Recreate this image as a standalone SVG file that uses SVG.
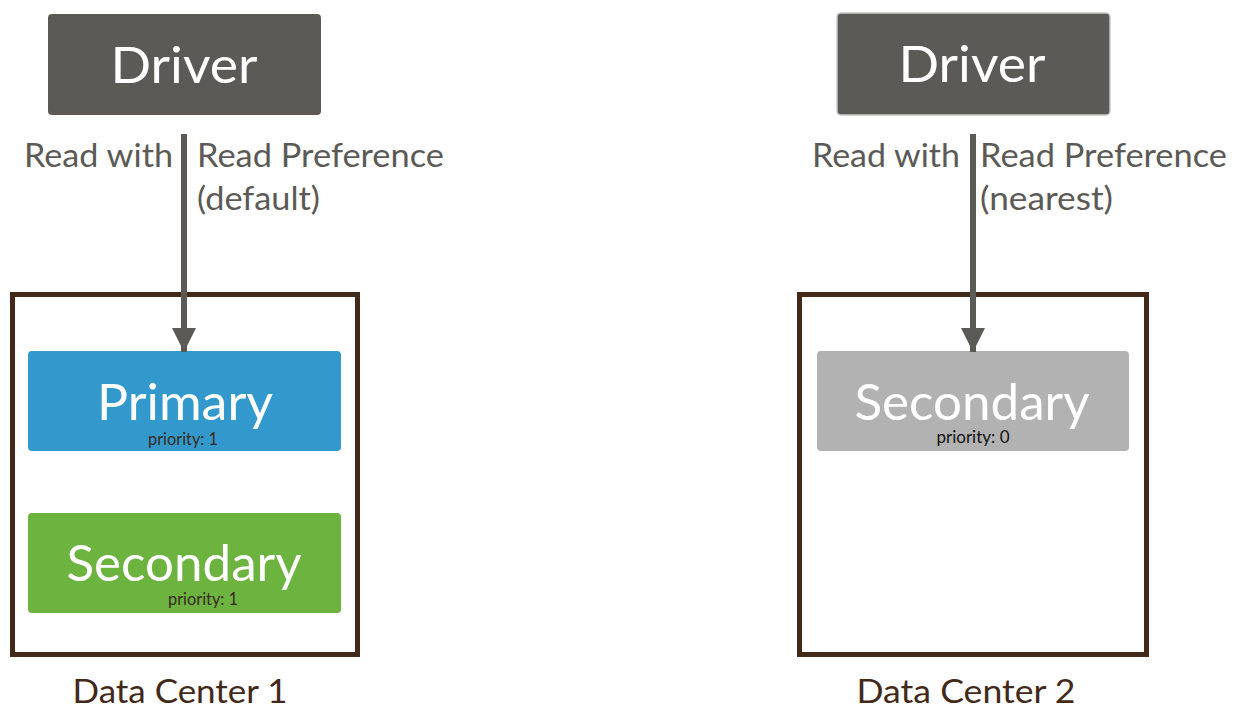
<svg xmlns="http://www.w3.org/2000/svg" width="1234" height="709" viewBox="0 0 1234 709">
<style>
text{font-family:"Lato","Open Sans","Liberation Sans",sans-serif}
.drv{fill:#5b5a56}
.big{fill:#ffffff;font-size:50px;text-anchor:middle}
.lbl{fill:#5b5a56;font-size:33px}
.pri{fill:#3a2a1c;font-size:17px;text-anchor:middle}
.dc{fill:none;stroke:#42291a;stroke-width:5}
.dct{fill:#42291a;font-size:32px;text-anchor:middle}
.conn{stroke:#5b5a56;stroke-width:6;fill:none}
</style>
<defs>
<marker id="ah" markerUnits="userSpaceOnUse" markerWidth="26" markerHeight="30" refX="24" refY="12" orient="auto" viewBox="0 0 26 24">
<path d="M0,0 L24,12 L0,24 Z" fill="#5b5a56"/>
</marker>
</defs>
<rect width="1234" height="709" fill="#ffffff"/>
<g id="dc1">
<rect class="dc" x="12.5" y="294.5" width="345" height="360"/>
<text class="dct" x="180" y="703" textLength="215" lengthAdjust="spacingAndGlyphs">Data Center 1</text>
</g>
<g id="dc2">
<rect class="dc" x="799.5" y="294.5" width="347" height="360"/>
<text class="dct" x="966" y="703" textLength="219" lengthAdjust="spacingAndGlyphs">Data Center 2</text>
</g>
<g id="driver1">
<rect class="drv" x="48" y="14" width="273" height="101" rx="4"/>
<text class="big" x="184" y="83" textLength="147" lengthAdjust="spacingAndGlyphs">Driver</text>
</g>
<g id="driver2">
<rect class="drv" x="837" y="13" width="273" height="102" rx="4" stroke="#c8c8c6" stroke-width="1.5"/>
<text class="big" x="972" y="82" textLength="147" lengthAdjust="spacingAndGlyphs">Driver</text>
</g>
<g id="primary1">
<rect x="28" y="351" width="313" height="100" rx="4" fill="#3399cc"/>
<text class="big" x="185" y="420" textLength="176" lengthAdjust="spacingAndGlyphs">Primary</text>
<text class="pri" x="183" y="445" textLength="70" lengthAdjust="spacingAndGlyphs">priority: 1</text>
</g>
<g id="secondary1">
<rect x="28" y="513" width="313" height="100" rx="4" fill="#6db33f"/>
<text class="big" x="184" y="581" textLength="235" lengthAdjust="spacingAndGlyphs">Secondary</text>
<text class="pri" x="203" y="605" textLength="70" lengthAdjust="spacingAndGlyphs">priority: 1</text>
</g>
<g id="secondary2">
<rect x="817" y="351" width="312" height="100" rx="4" fill="#b2b2b2"/>
<text class="big" x="972" y="420" textLength="235" lengthAdjust="spacingAndGlyphs">Secondary</text>
<text class="pri" x="973" y="443" textLength="73" lengthAdjust="spacingAndGlyphs" fill="#111111" style="fill:#111111">priority: 0</text>
</g>
<g id="connectors">
<line class="conn" x1="184" y1="134" x2="184" y2="352" marker-end="url(#ah)"/>
<line class="conn" x1="973" y1="134" x2="973" y2="352" marker-end="url(#ah)"/>
</g>
<g id="labels">
<text class="lbl" x="24" y="167" textLength="149" lengthAdjust="spacingAndGlyphs">Read with</text>
<text class="lbl" x="197" y="167" textLength="247" lengthAdjust="spacingAndGlyphs">Read Preference</text>
<text class="lbl" x="197" y="210" textLength="123" lengthAdjust="spacingAndGlyphs">(default)</text>
<text class="lbl" x="812" y="167" textLength="148" lengthAdjust="spacingAndGlyphs">Read with</text>
<text class="lbl" x="980" y="167" textLength="247" lengthAdjust="spacingAndGlyphs">Read Preference</text>
<text class="lbl" x="980" y="210" textLength="133" lengthAdjust="spacingAndGlyphs">(nearest)</text>
</g>
</svg>
